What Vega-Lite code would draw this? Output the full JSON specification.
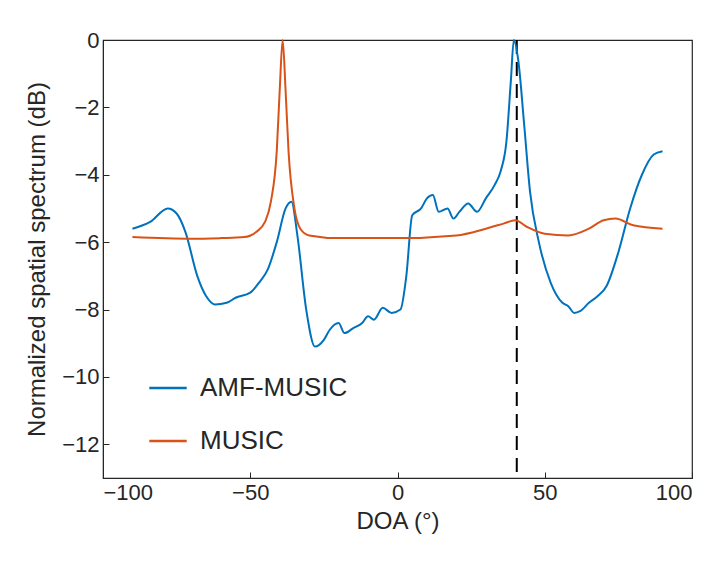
{
  "$schema": "https://vega.github.io/schema/vega-lite/v6.json",
  "width": 589,
  "height": 438,
  "autosize": "none",
  "padding": {"left": 103, "top": 40, "right": 34, "bottom": 99},
  "config": {
    "font": "Liberation Sans",
    "view": {"stroke": "#262626", "strokeWidth": 1.2},
    "axis": {"grid": false, "labelFontSize": 22, "titleFontSize": 24, "labelColor": "#262626", "titleColor": "#262626", "titleFontWeight": "normal", "domainColor": "#262626", "tickColor": "#262626", "tickSize": -6, "labelPadding": 10}
  },
  "datasets": {
    "curves": [
      {"doa": -90, "db": -5.6, "s": "AMF-MUSIC"}, {"doa": -84, "db": -5.4, "s": "AMF-MUSIC"}, {"doa": -78, "db": -5.0, "s": "AMF-MUSIC"}, {"doa": -75, "db": -5.15, "s": "AMF-MUSIC"},
      {"doa": -72, "db": -5.7, "s": "AMF-MUSIC"}, {"doa": -68, "db": -7.0, "s": "AMF-MUSIC"}, {"doa": -65, "db": -7.6, "s": "AMF-MUSIC"}, {"doa": -62, "db": -7.85, "s": "AMF-MUSIC"},
      {"doa": -58, "db": -7.8, "s": "AMF-MUSIC"}, {"doa": -55, "db": -7.65, "s": "AMF-MUSIC"}, {"doa": -50, "db": -7.5, "s": "AMF-MUSIC"}, {"doa": -47, "db": -7.2, "s": "AMF-MUSIC"},
      {"doa": -44, "db": -6.8, "s": "AMF-MUSIC"}, {"doa": -41, "db": -6.0, "s": "AMF-MUSIC"}, {"doa": -38, "db": -5.0, "s": "AMF-MUSIC"}, {"doa": -36, "db": -4.8, "s": "AMF-MUSIC"},
      {"doa": -34, "db": -5.8, "s": "AMF-MUSIC"}, {"doa": -31, "db": -8.0, "s": "AMF-MUSIC"}, {"doa": -28, "db": -9.1, "s": "AMF-MUSIC"}, {"doa": -25, "db": -8.9, "s": "AMF-MUSIC"},
      {"doa": -23, "db": -8.6, "s": "AMF-MUSIC"}, {"doa": -20, "db": -8.4, "s": "AMF-MUSIC"}, {"doa": -18, "db": -8.7, "s": "AMF-MUSIC"}, {"doa": -15, "db": -8.55, "s": "AMF-MUSIC"},
      {"doa": -12, "db": -8.4, "s": "AMF-MUSIC"}, {"doa": -10, "db": -8.2, "s": "AMF-MUSIC"}, {"doa": -8, "db": -8.3, "s": "AMF-MUSIC"}, {"doa": -5, "db": -7.95, "s": "AMF-MUSIC"},
      {"doa": -2, "db": -8.1, "s": "AMF-MUSIC"}, {"doa": 1, "db": -8.0, "s": "AMF-MUSIC"}, {"doa": 3, "db": -7.0, "s": "AMF-MUSIC"}, {"doa": 5, "db": -5.2, "s": "AMF-MUSIC"},
      {"doa": 8, "db": -5.0, "s": "AMF-MUSIC"}, {"doa": 10, "db": -4.7, "s": "AMF-MUSIC"}, {"doa": 12, "db": -4.6, "s": "AMF-MUSIC"}, {"doa": 14, "db": -5.1, "s": "AMF-MUSIC"},
      {"doa": 17, "db": -5.0, "s": "AMF-MUSIC"}, {"doa": 19, "db": -5.3, "s": "AMF-MUSIC"}, {"doa": 21, "db": -5.1, "s": "AMF-MUSIC"}, {"doa": 24, "db": -4.85, "s": "AMF-MUSIC"},
      {"doa": 27, "db": -5.1, "s": "AMF-MUSIC"}, {"doa": 30, "db": -4.7, "s": "AMF-MUSIC"}, {"doa": 33, "db": -4.3, "s": "AMF-MUSIC"}, {"doa": 35, "db": -3.9, "s": "AMF-MUSIC"},
      {"doa": 37, "db": -3.0, "s": "AMF-MUSIC"}, {"doa": 38.5, "db": -1.2, "s": "AMF-MUSIC"}, {"doa": 39.5, "db": 0, "s": "AMF-MUSIC"}, {"doa": 41, "db": -0.6, "s": "AMF-MUSIC"},
      {"doa": 43, "db": -2.5, "s": "AMF-MUSIC"}, {"doa": 45, "db": -4.5, "s": "AMF-MUSIC"}, {"doa": 48, "db": -6.0, "s": "AMF-MUSIC"}, {"doa": 52, "db": -7.2, "s": "AMF-MUSIC"},
      {"doa": 56, "db": -7.8, "s": "AMF-MUSIC"}, {"doa": 58, "db": -7.9, "s": "AMF-MUSIC"}, {"doa": 60, "db": -8.1, "s": "AMF-MUSIC"}, {"doa": 62, "db": -8.05, "s": "AMF-MUSIC"},
      {"doa": 65, "db": -7.8, "s": "AMF-MUSIC"}, {"doa": 68, "db": -7.6, "s": "AMF-MUSIC"}, {"doa": 71, "db": -7.3, "s": "AMF-MUSIC"}, {"doa": 75, "db": -6.3, "s": "AMF-MUSIC"},
      {"doa": 79, "db": -5.0, "s": "AMF-MUSIC"}, {"doa": 83, "db": -4.0, "s": "AMF-MUSIC"}, {"doa": 87, "db": -3.4, "s": "AMF-MUSIC"}, {"doa": 90, "db": -3.3, "s": "AMF-MUSIC"},
      {"doa": -90, "db": -5.85, "s": "MUSIC"}, {"doa": -70, "db": -5.9, "s": "MUSIC"}, {"doa": -60, "db": -5.88, "s": "MUSIC"}, {"doa": -52, "db": -5.85, "s": "MUSIC"},
      {"doa": -48, "db": -5.7, "s": "MUSIC"}, {"doa": -45, "db": -5.4, "s": "MUSIC"}, {"doa": -43, "db": -4.8, "s": "MUSIC"}, {"doa": -41, "db": -3.3, "s": "MUSIC"},
      {"doa": -40, "db": -1.5, "s": "MUSIC"}, {"doa": -39, "db": 0, "s": "MUSIC"}, {"doa": -38, "db": -1.5, "s": "MUSIC"}, {"doa": -37, "db": -3.3, "s": "MUSIC"},
      {"doa": -35, "db": -5.0, "s": "MUSIC"}, {"doa": -33, "db": -5.6, "s": "MUSIC"}, {"doa": -30, "db": -5.8, "s": "MUSIC"}, {"doa": -20, "db": -5.88, "s": "MUSIC"},
      {"doa": 0, "db": -5.88, "s": "MUSIC"}, {"doa": 20, "db": -5.8, "s": "MUSIC"}, {"doa": 30, "db": -5.6, "s": "MUSIC"}, {"doa": 36, "db": -5.45, "s": "MUSIC"},
      {"doa": 40, "db": -5.35, "s": "MUSIC"}, {"doa": 44, "db": -5.55, "s": "MUSIC"}, {"doa": 50, "db": -5.75, "s": "MUSIC"}, {"doa": 58, "db": -5.8, "s": "MUSIC"},
      {"doa": 65, "db": -5.6, "s": "MUSIC"}, {"doa": 70, "db": -5.35, "s": "MUSIC"}, {"doa": 74, "db": -5.3, "s": "MUSIC"}, {"doa": 80, "db": -5.5, "s": "MUSIC"},
      {"doa": 90, "db": -5.6, "s": "MUSIC"}
    ],
    "target": [{"doa": 40.5, "db": 0}, {"doa": 40.5, "db": -13}]
  },
  "encoding": {
    "x": {"field": "doa", "type": "quantitative", "title": "DOA (°)", "scale": {"domain": [-100, 100]}, "axis": {"values": [-100, -50, 0, 50, 100], "titlePadding": 6}},
    "y": {"field": "db", "type": "quantitative", "title": "Normalized spatial spectrum (dB)", "scale": {"domain": [-13, 0]}, "axis": {"values": [0, -2, -4, -6, -8, -10, -12], "titlePadding": 12}}
  },
  "layer": [
    {
      "data": {"name": "target"},
      "mark": {"type": "line", "color": "black", "strokeDash": [14, 8], "strokeWidth": 2},
      "encoding": {}
    },
    {
      "data": {"name": "curves"},
      "mark": {"type": "line", "strokeWidth": 2, "interpolate": "monotone"},
      "encoding": {
        "color": {"field": "s", "type": "nominal", "scale": {"domain": ["AMF-MUSIC", "MUSIC"], "range": ["#0072BD", "#D95319"]},
          "legend": {"title": null, "orient": "none", "legendX": 45, "legendY": 328, "labelFontSize": 26, "labelColor": "#262626", "symbolType": "stroke", "symbolSize": 1400, "symbolStrokeWidth": 2.5, "rowPadding": 20, "labelOffset": 12}}
      }
    }
  ]
}
